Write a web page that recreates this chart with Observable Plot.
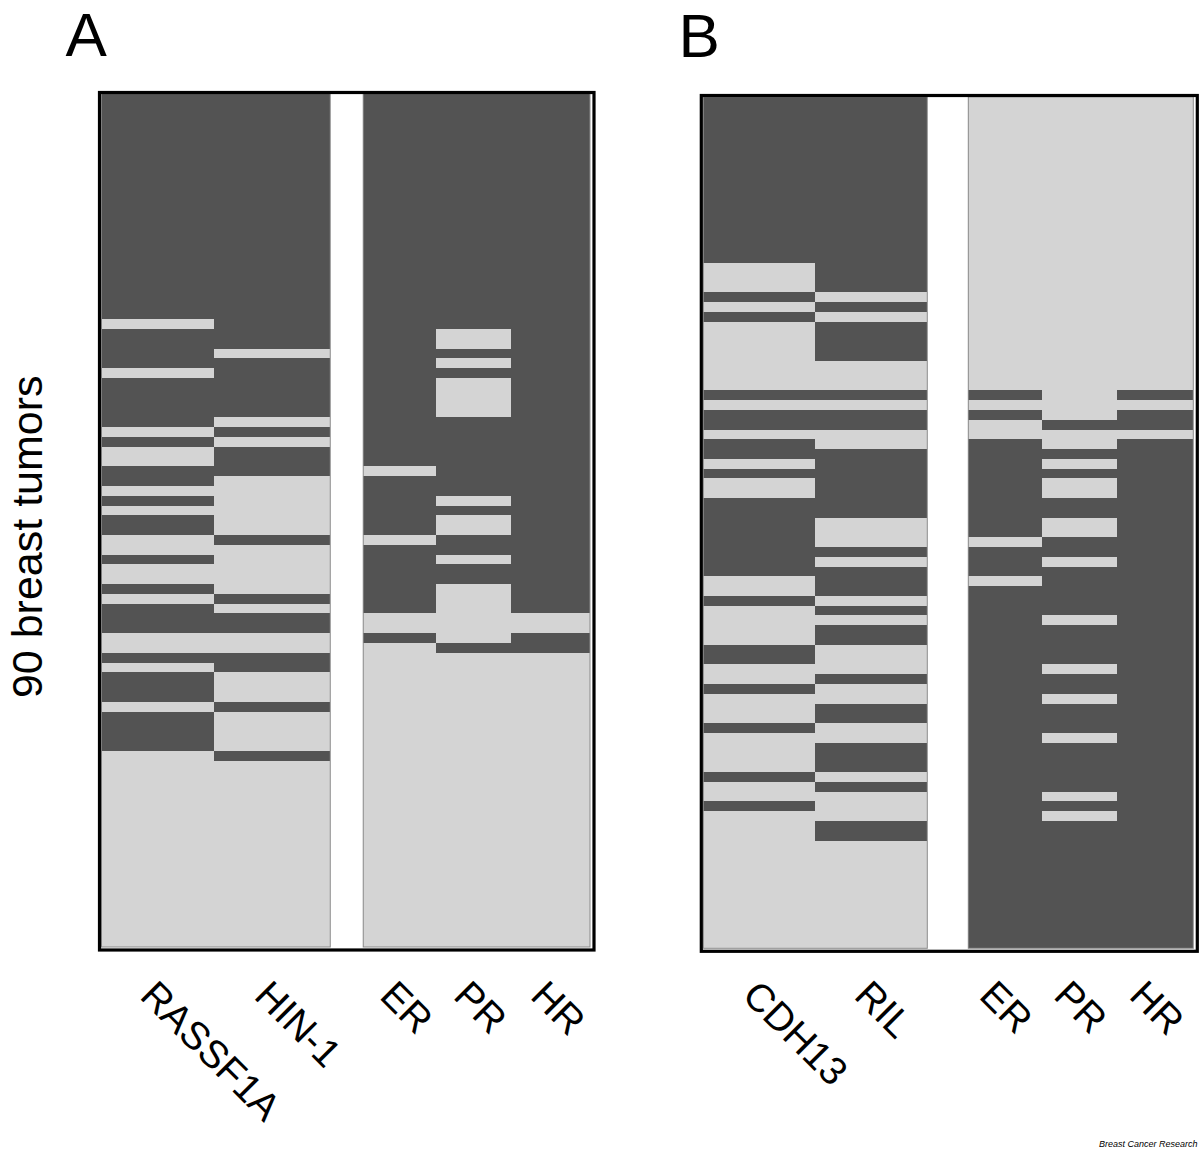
<!DOCTYPE html>
<html>
<head>
<meta charset="utf-8">
<script src="https://cdn.jsdelivr.net/npm/d3@7"></script>
<script src="https://cdn.jsdelivr.net/npm/@observablehq/plot@0.6"></script>
<style>
  body { margin: 0; background: #fff; }
  #wrap { position: relative; width: 1200px; height: 1149px; overflow: hidden; background: #fff; }
  #wrap svg { position: absolute; top: 0; }
</style>
</head>
<body>
<div id="wrap"></div>
<script>
// ---------------- DATA ----------------
// One character per tumor (rows top to bottom, 87 rows drawn).
// "1" = dark cell (methylated / receptor positive), "0" = light cell.
const panelTitles = ["A", "B"];
const yTitle = "90 breast tumors";
const sourceNote = "Breast Cancer Research";

const panelAColumns = ["RASSF1A", "HIN-1", "ER", "PR", "HR"];
const panelBColumns = ["CDH13", "RIL", "ER", "PR", "HR"];

const rassf1A = "1111111111 1111111111 1110111101 1111010011 0101100100 1011100101 1101111000 0000000000 0000000";
const hin1A   = "1111111111 1111111111 1111110111 1110101110 0000010000 0101100110 0010000100 0000000000 0000000";
const erA     = "1111111111 1111111111 1111111111 1111111101 1111101111 1110010000 0000000000 0000000000 0000000";
const prA     = "1111111111 1111111111 1111001010 0001111111 1010011011 0000001000 0000000000 0000000000 0000000";
const hrA     = "1111111111 1111111111 1111111111 1111111111 1111111111 1110011000 0000000000 0000000000 0000000";

const cdh13B  = "1111111111 1111111000 1010000000 1011011010 0111111110 0100001100 1000100001 0010000000 0000000";
const rilB    = "1111111111 1111111111 0101111000 1011001111 1110001011 1010110001 0011001110 1000110000 0000000";
const erB     = "0000000000 0000000000 0000000000 1010011111 1111101110 1111111111 1111111111 1111111111 1111111";
const prB     = "0000000000 0000000000 0000000000 0001001010 0110011011 1110111101 1011101111 1010111111 1111111";
const hrB     = "0000000000 0000000000 0000000000 1011011111 1111111111 1111111111 1111111111 1111111111 1111111";

const panelAValues = [rassf1A, hin1A, erA, prA, hrA];
const panelBValues = [cdh13B, rilB, erB, prB, hrB];

// ---------------- LAYOUT / STYLE ----------------
const FONT = '"Liberation Sans", Arial, Helvetica, sans-serif';
const DARK = "#535353", LIGHT = "#d4d4d4";

function buildPanel(cfg) {
  const series = cfg.values.map(s => s.replace(/\s+/g, ""));
  const nRows = series[0].length;
  // column extents (in layout units), gap inserted after the gene columns
  const ext = [];
  let x = 0;
  cfg.columns.forEach((name, i) => {
    ext.push({name, x1: x, x2: x + cfg.widths[i], xc: x + cfg.widths[i] / 2, kind: i < 2 ? "gene" : "receptor"});
    x += cfg.widths[i];
    if (i === 1) x += cfg.gap;
  });
  const total = x;
  const cells = [];
  series.forEach((s, ci) => {
    for (let r = 0; r < s.length; r++) {
      cells.push({col: ext[ci].name, x1: ext[ci].x1, x2: ext[ci].x2, row: r, row2: r + 1, status: s[r]});
    }
  });
  const blocks = [
    {x1: ext[0].x1, x2: ext[1].x2, y1: 0, y2: nRows},
    {x1: ext[2].x1, x2: ext[4].x2, y1: 0, y2: nRows}
  ];
  const genes = ext.filter(d => d.kind === "gene");
  const receptors = ext.filter(d => d.kind === "receptor");
  const m = cfg.margins;
  const innerBottom = 1149 - m.bottom;
  const marks = [
    Plot.rect(cells, {x1: "x1", x2: "x2", y1: "row", y2: "row2", fill: "status", shapeRendering: "crispEdges"}),
    Plot.rect(blocks, {x1: "x1", x2: "x2", y1: "y1", y2: "y2", fill: "none", stroke: "#8a8a8a", strokeWidth: 1}),
    Plot.frame({stroke: "#000", strokeWidth: 3.2, insetLeft: cfg.frame[0], insetRight: cfg.frame[1], insetTop: cfg.frame[2], insetBottom: cfg.frame[3]}),
    Plot.text(genes, {x: "xc", text: "name", frameAnchor: "bottom", rotate: 45, textAnchor: "start", lineAnchor: "bottom",
      dx: cfg.labelDx[0], dy: cfg.labelDy, fontSize: 39, fill: "#000"}),
    Plot.text(receptors, {x: "xc", text: "name", frameAnchor: "bottom", rotate: 45, textAnchor: "start", lineAnchor: "bottom",
      dx: cfg.labelDx[1], dy: cfg.labelDy, fontSize: 39, fill: "#000"}),
    Plot.text([cfg.title], {text: d => d, frameAnchor: "top-left", textAnchor: "start", lineAnchor: "bottom",
      dx: cfg.titlePos[0], dy: cfg.titlePos[1], fontSize: 62, fill: "#000"})
  ];
  if (cfg.yTitle) {
    marks.push(Plot.text([cfg.yTitle], {text: d => d, frameAnchor: "left", rotate: -90, textAnchor: "middle", lineAnchor: "bottom",
      dx: cfg.yTitlePos[0], dy: cfg.yTitlePos[1], fontSize: 43, fill: "#000"}));
  }
  if (cfg.note) {
    marks.push(Plot.text([cfg.note], {text: d => d, frameAnchor: "bottom-right", textAnchor: "end", lineAnchor: "bottom",
      dx: cfg.notePos[0], dy: cfg.notePos[1], fontSize: 9, fontStyle: "italic", fill: "#000"}));
  }
  const svg = Plot.plot({
    width: 600,
    height: 1149,
    marginLeft: m.left, marginRight: m.right, marginTop: m.top, marginBottom: m.bottom,
    x: {domain: [0, total], axis: null},
    y: {domain: [0, nRows], reverse: true, axis: null},
    color: {type: "ordinal", domain: ["1", "0"], range: [DARK, LIGHT]},
    style: {fontFamily: FONT, background: "transparent", overflow: "visible"},
    marks
  });
  svg.style.left = cfg.left + "px";
  return svg;
}

const wrap = document.getElementById("wrap");

wrap.appendChild(buildPanel({
  left: 0,
  title: panelTitles[0],
  yTitle: yTitle,
  columns: panelAColumns,
  values: panelAValues,
  widths: [113, 116, 73, 75, 79],
  gap: 33,
  margins: {left: 101.5, right: 10, top: 93.5, bottom: 202},
  frame: [-2.5, -3.5, -1.5, -2.5],
  labelDx: [-20, -22],
  labelDy: 50,
  titlePos: [-36.5, -38.5],
  yTitlePos: [-60, 16]
}));

wrap.appendChild(buildPanel({
  left: 600,
  title: panelTitles[1],
  note: sourceNote,
  columns: panelBColumns,
  values: panelBValues,
  widths: [112, 112, 74, 75, 76],
  gap: 41,
  margins: {left: 103.3, right: 6.7, top: 96.7, bottom: 200.7},
  frame: [-2.5, -3.5, -1.7, -2.5],
  labelDx: [-19, -28],
  labelDy: 48.5,
  titlePos: [-25.3, -40],
  notePos: [3.7, 197.7]
}));
</script>
</body>
</html>
